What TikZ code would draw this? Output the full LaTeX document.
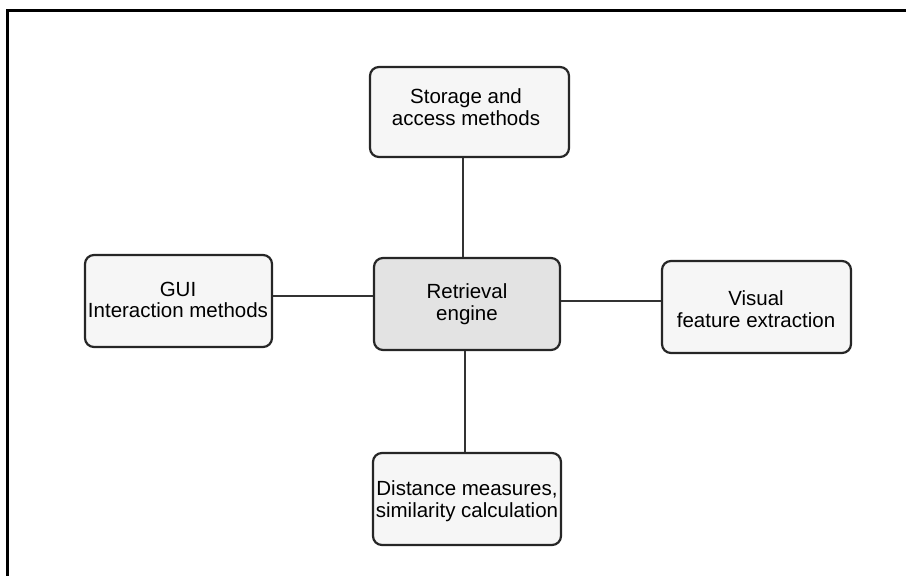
\documentclass[tikz,border=0pt]{standalone}
\usepackage{fontspec}
\setmainfont{Liberation Sans}
\begin{document}
\begin{tikzpicture}[x=1pt,y=-1pt,
  box/.style={draw=black!85,line width=2.2pt,rounded corners=9pt,fill=gray!7,inner sep=0pt},
  centrebox/.style={box,fill=gray!22},
  lbl/.style={align=center,inner sep=0pt,text=black,font=\fontsize{20.5}{21.5}\selectfont},
  link/.style={draw=black!80,line width=2.3pt},
  frame/.style={line width=3pt,black}]
\useasboundingbox (0,0) rectangle (906,576);
% outer frame (top and left edges only)
\draw[frame] (906,10.5) -- (7.5,10.5) -- (7.5,576);
% boxes
\node[box,minimum width=199pt,minimum height=90pt] (st) at (469.5,112) {};
\node[box,minimum width=187pt,minimum height=92pt] (gui) at (178.5,301) {};
\node[centrebox,minimum width=186pt,minimum height=92pt] (re) at (467,304) {};
\node[box,minimum width=189pt,minimum height=92pt] (vi) at (756.5,307) {};
\node[box,minimum width=188pt,minimum height=92pt] (di) at (467,499) {};
% labels
\node[lbl] (stl) at (466,107) {Storage and\\access methods};
\node[lbl] (guil) at (178,300) {GUI\\Interaction methods};
\node[lbl] (rel) at (467,304) {Retrieval\\engine};
\node[lbl] (vil) at (756,309) {Visual\\feature extraction};
\node[lbl] (dil) at (467,501) {Distance measures,\\similarity calculation};
% connectors
\draw[link] ([xshift=-6.5pt]st.south) -- ([xshift=-4pt]re.north);
\draw[link] ([xshift=-2pt]re.south) -- ([xshift=-2pt]di.north);
\draw[link] ([yshift=5pt]gui.east) -- ([yshift=8pt]re.west);
\draw[link] ([yshift=3pt]re.east) -- ([yshift=6pt]vi.west);
\end{tikzpicture}
\end{document}
